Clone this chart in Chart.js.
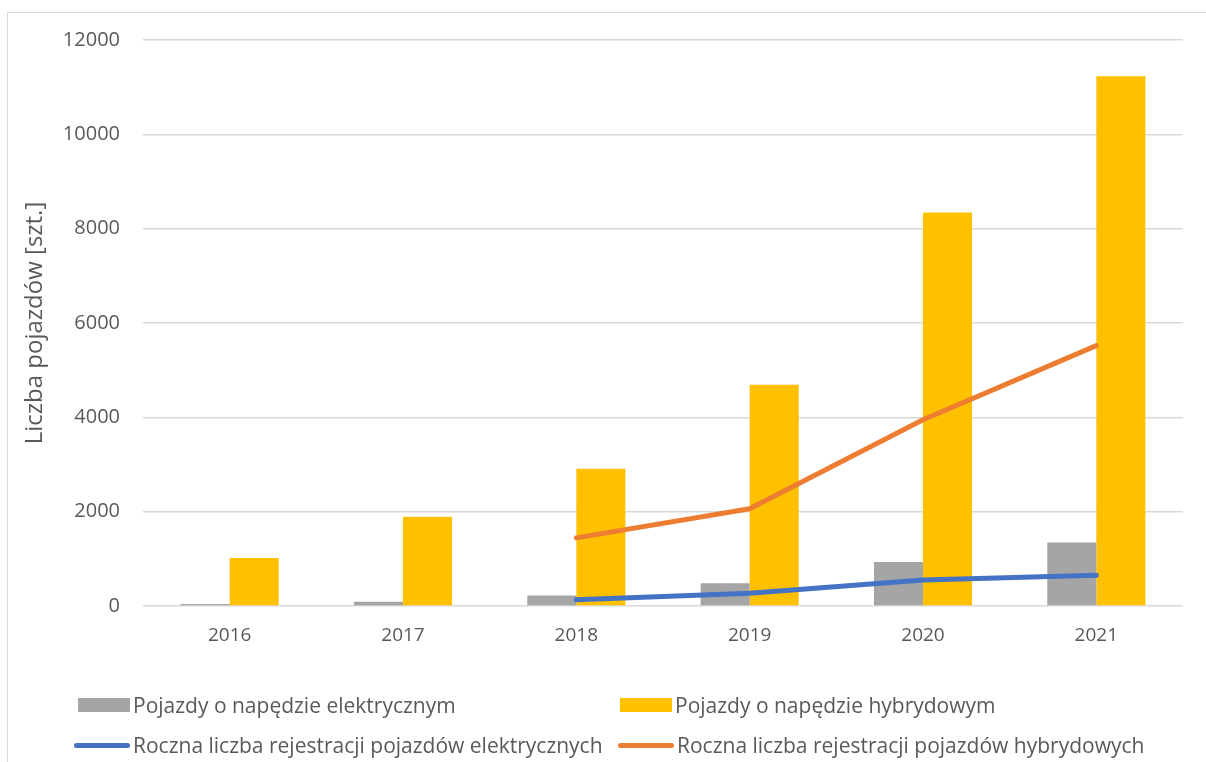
<!DOCTYPE html>
<html>
<head>
<meta charset="utf-8">
<script src="https://cdn.jsdelivr.net/npm/chart.js@4"></script>
<style>
  body { margin: 0; background: #fff; font-family: "Open Sans", sans-serif; }
  #wrap { position: relative; width: 1206px; height: 762px; overflow: hidden; }
  #frame { position: absolute; left: 7px; top: 12px; width: 1300px; height: 900px; border: 1px solid #d9d9d9; }
  canvas { position: absolute; left: 0; top: 0; }
  #legend { position: absolute; left: 0; top: 0; width: 1206px; height: 762px; pointer-events: none; }
  .item { position: absolute; display: flex; align-items: center; font-size: 21px; color: #595959; white-space: nowrap; line-height: 24px; }
  .box { width: 52px; height: 14px; margin-right: 3px; }
  .line { width: 56px; height: 5px; border-radius: 3px; margin-right: 3px; }
</style>
</head>
<body>
<div id="wrap">
  <div id="frame"></div>
  <canvas id="myChart" width="1206" height="762"></canvas>
  <div id="legend"></div>
</div>
<script>
const years = ['2016', '2017', '2018', '2019', '2020', '2021'];
const electricFleet = [45, 90, 220, 480, 935, 1345];
const hybridFleet = [1020, 1890, 2910, 4690, 8345, 11230];
const electricRegistrations = [null, null, 130, 270, 550, 650];
const hybridRegistrations = [null, null, 1445, 2060, 3950, 5520];
const yTicks = [0, 2000, 4000, 6000, 8000, 10000, 12000];

const textColor = '#595959';
const gridColor = '#d9d9d9';
const fontFamily = '"Open Sans", sans-serif';

const ctx = document.getElementById('myChart').getContext('2d');
const chart = new Chart(ctx, {
    type: 'bar',
    data: {
        labels: years,
        datasets: [
            {
                label: 'Pojazdy o napędzie elektrycznym',
                data: electricFleet,
                backgroundColor: '#a5a5a5',
                order: 1
            },
            {
                label: 'Pojazdy o napędzie hybrydowym',
                data: hybridFleet,
                backgroundColor: '#ffc000',
                order: 1
            },
            {
                type: 'line',
                label: 'Roczna liczba rejestracji pojazdów elektrycznych',
                data: electricRegistrations,
                borderColor: '#4472c4',
                backgroundColor: '#4472c4',
                borderWidth: 5,
                pointRadius: 0,
                borderCapStyle: 'round',
                borderJoinStyle: 'round',
                tension: 0,
                order: 0
            },
            {
                type: 'line',
                label: 'Roczna liczba rejestracji pojazdów hybrydowych',
                data: hybridRegistrations,
                borderColor: '#ed7d31',
                backgroundColor: '#ed7d31',
                borderWidth: 5,
                pointRadius: 0,
                borderCapStyle: 'round',
                borderJoinStyle: 'round',
                tension: 0,
                order: 0
            }
        ]
    },
    options: {
        responsive: false,
        animation: false,
        datasets: {
            bar: {
                barPercentage: 1,
                categoryPercentage: 0.566
            }
        },
        layout: {
            padding: { top: 40, right: 23, left: 0, bottom: 0 }
        },
        plugins: {
            legend: { display: false },
            tooltip: { enabled: false }
        },
        scales: {
            x: {
                grid: { display: false, drawTicks: false },
                border: { display: false },
                ticks: {
                    color: textColor,
                    padding: 18,
                    font: { family: fontFamily, size: 19 }
                },
                afterFit: scale => { scale.height = 156; }
            },
            y: {
                min: 0,
                max: 12000,
                afterBuildTicks: scale => { scale.ticks = yTicks.map(v => ({ value: v })); },
                grid: { color: gridColor, lineWidth: 1.5, drawTicks: false },
                border: { display: false },
                ticks: {
                    color: textColor,
                    padding: 23,
                    font: { family: fontFamily, size: 20 },
                    callback: value => String(value)
                },
                title: {
                    display: true,
                    text: 'Liczba pojazdów [szt.]',
                    color: textColor,
                    padding: { top: 21, bottom: 0 },
                    font: { family: fontFamily, size: 24 }
                },
                afterFit: scale => { scale.width = 143; }
            }
        }
    }
});

// legend laid out as two columns like the original
const legendPos = [
    { left: 78, top: 693 },
    { left: 620, top: 693 },
    { left: 74, top: 733 },
    { left: 618, top: 733 }
];
const legendEl = document.getElementById('legend');
chart.data.datasets.forEach((ds, i) => {
    const item = document.createElement('div');
    item.className = 'item';
    item.style.left = legendPos[i].left + 'px';
    item.style.top = legendPos[i].top + 'px';
    const mark = document.createElement('span');
    mark.className = ds.type === 'line' ? 'line' : 'box';
    mark.style.background = ds.type === 'line' ? ds.borderColor : ds.backgroundColor;
    const txt = document.createElement('span');
    txt.textContent = ds.label;
    item.appendChild(mark);
    item.appendChild(txt);
    legendEl.appendChild(item);
});
</script>
</body>
</html>
